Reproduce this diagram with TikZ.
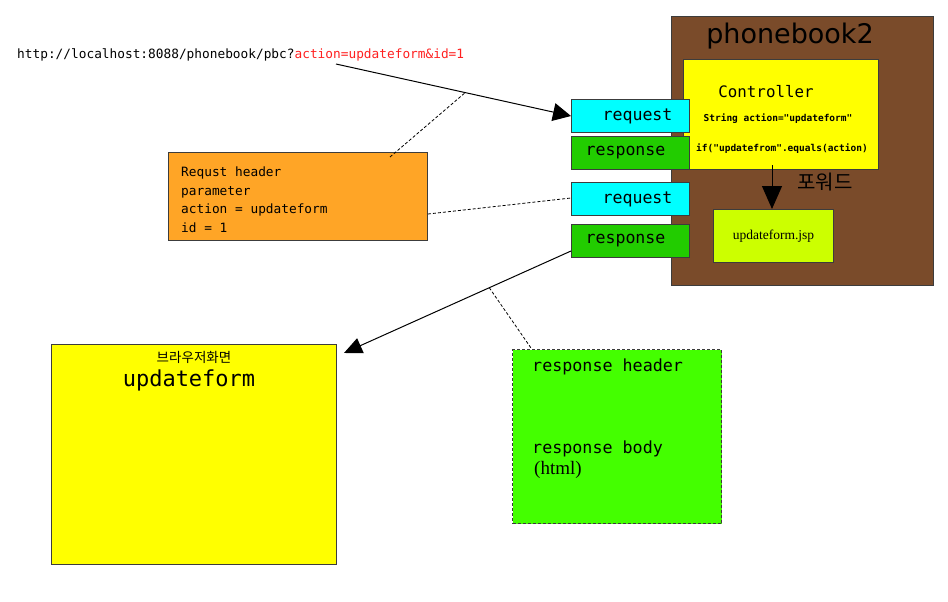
\documentclass[tikz,border=0pt]{standalone}
\usepackage{fontspec}
\setmonofont{DejaVu Sans Mono}
\newfontfamily\krfont{Noto Sans CJK KR}
\newfontfamily\serifface{Liberation Serif}
\newfontfamily\sansface{DejaVu Sans}
\usetikzlibrary{arrows.meta,calc}
\definecolor{brownbg}{RGB}{122,75,42}
\definecolor{ctrlyellow}{RGB}{255,255,0}
\definecolor{reqcyan}{RGB}{0,255,255}
\definecolor{respgreen}{RGB}{34,204,0}
\definecolor{jspgreen}{RGB}{204,255,0}
\definecolor{hdrorange}{RGB}{255,165,38}
\definecolor{bodygreen}{RGB}{68,255,0}
\definecolor{urlred}{RGB}{255,32,32}
\definecolor{edgegray}{RGB}{60,60,60}
\tikzset{
  box/.style={draw=edgegray, line width=1pt, inner sep=0pt, anchor=north west},
  tab/.style={box, minimum width=118pt, minimum height=33pt,
    font=\ttfamily\fontsize{16.6}{20}\selectfont},
  bigarrow/.style={line width=1pt, -{Triangle[length=18pt,width=18pt]}},
  note/.style={line width=0.8pt, dashed, dash pattern=on 3pt off 2pt},
}
\begin{document}
\begin{tikzpicture}[x=1pt,y=-1pt]
\useasboundingbox (0,0) rectangle (948,602);

% request URL
\node[anchor=base west, inner sep=0pt, font=\ttfamily\fontsize{12.8}{15}\selectfont] (url) at (17,59)
  {http://localhost:8088/phonebook/pbc?\textcolor{urlred}{action=updateform\&id=1}};
\coordinate (urlpt) at (336,64);

% web application
\node[box, fill=brownbg, minimum width=262pt, minimum height=269pt] (app) at (671,16) {};
\node[font=\sansface\fontsize{27}{30}\selectfont] (appname) at (790,36) {phonebook2};

\node[box, fill=ctrlyellow, minimum width=195pt, minimum height=110pt] (ctrl) at (683,59) {};
\node[font=\ttfamily\fontsize{15.8}{18}\selectfont] (ctrlname) at (766,92) {Controller};
\node[font=\ttfamily\bfseries\fontsize{9.5}{11}\selectfont] (ctrlline1) at (778,119) {String action="updateform"};
\node[font=\ttfamily\bfseries\fontsize{9.5}{11}\selectfont] (ctrlline2) at (782,149) {if("updatefrom".equals(action)};

\node[box, fill=jspgreen, minimum width=120pt, minimum height=53pt, font=\serifface\fontsize{13.5}{16}\selectfont] (jsp) at (713,209) {updateform.jsp};
\node[font=\krfont\fontsize{20}{24}\selectfont] (fwd) at (825,182) {포워드};
\draw[line width=1pt, -{Triangle[length=23pt,width=20pt]}] (772,165) -- (jsp.north -| 772,0);

% request / response objects
\node[tab, fill=reqcyan] (req1) at (571,99) {\hspace*{14pt}request};
\node[tab, fill=respgreen] (resp1) at (571,136) {response\hspace*{10pt}};
\node[tab, fill=reqcyan] (req2) at (571,182) {\hspace*{14pt}request};
\node[tab, fill=respgreen] (resp2) at (571,224) {response\hspace*{10pt}};

% request header
\node[box, fill=hdrorange, minimum width=259pt, minimum height=88pt] (hdr) at (168,152) {};
\node[anchor=north west, inner sep=0pt, align=left, font=\ttfamily\fontsize{12.8}{18.5}\selectfont] (hdrtext) at (181,167)
  {Requst header\\parameter\\action = updateform\\id = 1};

% browser screen
\node[box, fill=ctrlyellow, minimum width=285pt, minimum height=220pt] (browser) at (51,344) {};
\node[font=\krfont\fontsize{13.5}{16}\selectfont] (brlabel) at (194,357) {브라우저화면};
\node[font=\ttfamily\fontsize{22}{26}\selectfont] (brtitle) at (189,380) {updateform};

% response content
\node[box, fill=bodygreen, dashed, dash pattern=on 3pt off 2pt, minimum width=209pt, minimum height=174pt] (body) at (512,349) {};
\node[anchor=west, inner sep=0pt, font=\ttfamily\fontsize{16.7}{20}\selectfont] (bodyhead) at (532,367) {response header};
\node[anchor=west, inner sep=0pt, font=\ttfamily\fontsize{16.7}{20}\selectfont] (bodybody) at (532,449) {response body};
\node[anchor=west, inner sep=0pt, font=\serifface\fontsize{19}{22}\selectfont] (bodyhtml) at (534,470) {(html)};

% connectors
\draw[bigarrow] (urlpt) -- (req1.west);
\coordinate (urlmid) at ($(urlpt)!0.55!(req1.west)$);
\draw[note] ($(hdr.north west)+(222,5)$) -- (urlmid);
\draw[note] ($(hdr.north east)+(0,62)$) -- ($(req2.west)+(0,-1)$);

\coordinate (respstart) at ($(resp2.south west)+(0,-7)$);
\coordinate (brtip) at ($(browser.north east)+(7,9)$);
\draw[line width=1pt, -{Triangle[length=18pt,width=16pt]}] (respstart) -- (brtip);
\coordinate (respmid) at ($(respstart)!0.36!(brtip)$);
\draw[note] (respmid) -- ($(body.north west)+(19,-1)$);
\end{tikzpicture}
\end{document}
